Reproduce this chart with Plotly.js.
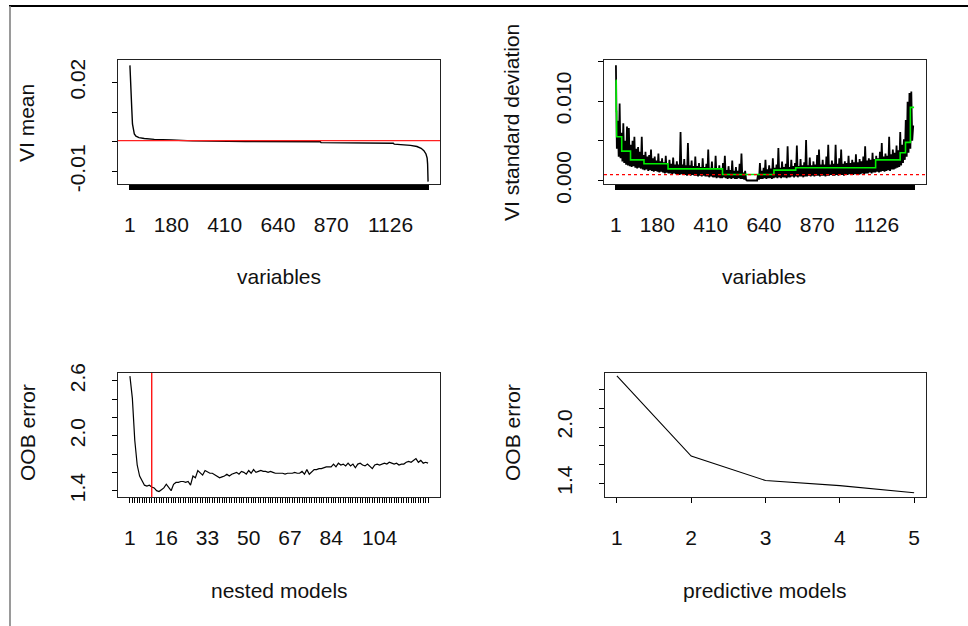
<!DOCTYPE html>
<html>
<head>
<meta charset="utf-8">
<script src="https://cdn.plot.ly/plotly-3.0.1.min.js"></script>
<style>
html,body{margin:0;padding:0;background:#fff;}
#chart{width:968px;height:626px;}
</style>
</head>
<body>
<div id="chart"></div>
<script>
// ---------------- DATA ----------------
var nVars = 1288;
var nNested = 124;

// Panel 1: VI mean (sorted), read at breakpoints of the curve
var viMeanIdx = [1, 3, 6, 9, 12, 15, 20, 27, 40, 63, 106, 180, 271, 500, 823, 826, 1000, 1138, 1142, 1180, 1212, 1240, 1258, 1270, 1279, 1284, 1286, 1288];
var viMeanVal = [0.0257, 0.0200, 0.0125, 0.0110, 0.0060, 0.0040, 0.0026, 0.0019, 0.0014, 0.0011, 0.0008, 0.0006, 0.0003, 0.0001, 0.0000, -0.0003, -0.0004, -0.0005, -0.0008, -0.0010, -0.0012, -0.0016, -0.0022, -0.0030, -0.0041, -0.0055, -0.0075, -0.0134];
var viMeanThreshold = 0.0004;

// Panel 2: VI standard deviation, read per bin of ~8 variables: upper values (with spikes) and lower values
var viSdHigh = [
 0.0145, 0.0075, 0.0097, 0.0060, 0.0072, 0.0050, 0.0068, 0.0066, 0.0045, 0.0050,
 0.0055, 0.0040, 0.0042, 0.0036, 0.0055, 0.0032, 0.0036, 0.0030, 0.0032, 0.0039,
 0.0028, 0.0030, 0.0025, 0.0034, 0.0024, 0.0028, 0.0023, 0.0031, 0.0022, 0.0026,
 0.0021, 0.0029, 0.0020, 0.0024, 0.0020, 0.0061, 0.0020, 0.0027, 0.0019, 0.0047,
 0.0019, 0.0025, 0.0018, 0.0030, 0.0018, 0.0022, 0.0017, 0.0028, 0.0017, 0.0021,
 0.0039, 0.0016, 0.0024, 0.0015, 0.0031, 0.0015, 0.0019, 0.0014, 0.0022, 0.0031,
 0.0013, 0.0018, 0.0013, 0.0025, 0.0012, 0.0017, 0.0012, 0.0021, 0.0034, 0.0010,
 0.0012, 0.0000, 0.0000, 0.0000, 0.0000, 0.0000, 0.0000, 0.0008, 0.0022, 0.0012,
 0.0016, 0.0026, 0.0014, 0.0019, 0.0015, 0.0028, 0.0016, 0.0020, 0.0041, 0.0016,
 0.0024, 0.0017, 0.0021, 0.0043, 0.0017, 0.0026, 0.0018, 0.0022, 0.0044, 0.0018,
 0.0027, 0.0019, 0.0023, 0.0051, 0.0019, 0.0029, 0.0019, 0.0024, 0.0020, 0.0032,
 0.0039, 0.0020, 0.0026, 0.0020, 0.0030, 0.0045, 0.0020, 0.0025, 0.0021, 0.0045,
 0.0021, 0.0028, 0.0039, 0.0021, 0.0024, 0.0022, 0.0031, 0.0022, 0.0026, 0.0023,
 0.0033, 0.0023, 0.0027, 0.0024, 0.0030, 0.0043, 0.0025, 0.0028, 0.0026, 0.0035,
 0.0027, 0.0031, 0.0028, 0.0036, 0.0047, 0.0030, 0.0034, 0.0031, 0.0055, 0.0033,
 0.0039, 0.0035, 0.0044, 0.0038, 0.0061, 0.0045, 0.0052, 0.0076, 0.0099, 0.0110,
 0.0112, 0.0068
];
var viSdLow = [
 0.0040, 0.0030, 0.0028, 0.0024, 0.0022, 0.0020, 0.0019, 0.0018, 0.0017, 0.0018,
 0.0016, 0.0015, 0.0016, 0.0015, 0.0014, 0.0013, 0.0014, 0.0012, 0.0013, 0.0012,
 0.0011, 0.0012, 0.0011, 0.0010, 0.0011, 0.0010, 0.0009, 0.0010, 0.0009, 0.0009,
 0.0008, 0.0009, 0.0008, 0.0008, 0.0007, 0.0008, 0.0007, 0.0007, 0.0006, 0.0007,
 0.0006, 0.0007, 0.0006, 0.0006, 0.0005, 0.0006, 0.0005, 0.0006, 0.0005, 0.0005,
 0.0004, 0.0005, 0.0004, 0.0004, 0.0003, 0.0004, 0.0003, 0.0003, 0.0004, 0.0003,
 0.0002, 0.0003, 0.0002, 0.0003, 0.0002, 0.0002, 0.0003, 0.0002, 0.0002, 0.0001,
 0.0001, 0.0000, 0.0000, 0.0000, 0.0000, 0.0000, 0.0000, 0.0001, 0.0002, 0.0002,
 0.0003, 0.0002, 0.0003, 0.0003, 0.0002, 0.0003, 0.0004, 0.0003, 0.0004, 0.0003,
 0.0004, 0.0004, 0.0003, 0.0004, 0.0004, 0.0005, 0.0004, 0.0005, 0.0004, 0.0005,
 0.0005, 0.0004, 0.0005, 0.0005, 0.0006, 0.0005, 0.0006, 0.0005, 0.0006, 0.0006,
 0.0005, 0.0006, 0.0006, 0.0005, 0.0006, 0.0006, 0.0007, 0.0006, 0.0006, 0.0007,
 0.0006, 0.0007, 0.0007, 0.0006, 0.0007, 0.0007, 0.0008, 0.0007, 0.0007, 0.0008,
 0.0008, 0.0007, 0.0008, 0.0009, 0.0008, 0.0009, 0.0009, 0.0010, 0.0009, 0.0010,
 0.0010, 0.0011, 0.0010, 0.0011, 0.0012, 0.0011, 0.0012, 0.0013, 0.0012, 0.0014,
 0.0014, 0.0015, 0.0016, 0.0017, 0.0019, 0.0022, 0.0026, 0.0030, 0.0035, 0.0040,
 0.0050, 0.0068
];
// pruned CART tree prediction (step function): start index of each step and its value
var treeStepIdx = [1, 2, 4, 26, 64, 122, 226, 461, 683, 777, 1122, 1228, 1251, 1272, 1288];
var treeStepVal = [0.0126, 0.0087, 0.0055, 0.0037, 0.0026, 0.0021, 0.00146, 0.00075, 0.0013, 0.0016, 0.0026, 0.0035, 0.0048, 0.0092, 0.0092];
var sdThreshold = 0.00075;

// Panel 3: OOB error of nested models
var nestedOOB = [
 2.65, 2.41, 1.95, 1.68, 1.56, 1.50, 1.46, 1.45, 1.46, 1.44,
 1.43, 1.40, 1.39, 1.41, 1.43, 1.47, 1.43, 1.40, 1.47, 1.49,
 1.49, 1.50, 1.50, 1.49, 1.50, 1.46, 1.56, 1.54, 1.62, 1.60,
 1.57, 1.62, 1.60, 1.59, 1.59, 1.57, 1.55, 1.54, 1.55, 1.56,
 1.58, 1.56, 1.58, 1.59, 1.60, 1.58, 1.61, 1.60, 1.58, 1.62,
 1.59, 1.63, 1.60, 1.61, 1.62, 1.61, 1.61, 1.60, 1.61, 1.60,
 1.59, 1.59, 1.59, 1.59, 1.58, 1.59, 1.59, 1.59, 1.60, 1.59,
 1.59, 1.61, 1.58, 1.63, 1.58, 1.60, 1.63, 1.63, 1.64, 1.64,
 1.65, 1.66, 1.66, 1.66, 1.69, 1.66, 1.70, 1.68, 1.69, 1.67,
 1.70, 1.67, 1.69, 1.65, 1.69, 1.70, 1.68, 1.67, 1.69, 1.66,
 1.64, 1.68, 1.69, 1.68, 1.69, 1.70, 1.69, 1.71, 1.70, 1.69,
 1.70, 1.68, 1.69, 1.69, 1.71, 1.72, 1.71, 1.73, 1.75, 1.71,
 1.73, 1.70, 1.71, 1.70
];
var nInterp = 10;

// Panel 4: OOB error of predictive models
var predModels = [1, 2, 3, 4, 5];
var predOOB = [2.545, 1.69, 1.43, 1.375, 1.30];

// tick labels
var varTickLabels = [1, 180, 410, 640, 870, 1126];
var nestedTickLabels = [1, 16, 33, 50, 67, 84, 104];
var viMeanTicks = [-0.01, 0, 0.01, 0.02];
var viMeanTickText = ['-0.01', '', '', '0.02'];
var viSdTicks = [0, 0.005, 0.01, 0.015];
var viSdTickText = ['0.000', '', '0.010', ''];
var nestedYTicks = [1.4, 1.6, 1.8, 2.0, 2.2, 2.4, 2.6];
var nestedYTickText = ['1.4', '', '', '2.0', '', '', '2.6'];
var predYTicks = [1.4, 1.6, 1.8, 2.0, 2.2, 2.4];
var predYTickText = ['1.4', '', '', '2.0', '', ''];

// ---------------- BUILD ----------------
var W = 968, H = 626;
function px(a){ return a / W; }
function py(a){ return 1 - a / H; }
function range1(n){ var a=[]; for (var i=1;i<=n;i++) a.push(i); return a; }
function denseText(n, labels){
  var t=[]; for (var i=1;i<=n;i++) t.push(labels.indexOf(i) >= 0 ? String(i) : ''); return t;
}
// interleave upper / lower readings along the variable axis
var viSdX = [], viSdY = [];
var nPts = viSdHigh.length * 2;
for (var k = 0; k < viSdHigh.length; k++) {
  viSdX.push(1 + (2*k) * (nVars - 1) / (nPts - 1)); viSdY.push(viSdHigh[k]);
  viSdX.push(1 + (2*k+1) * (nVars - 1) / (nPts - 1)); viSdY.push(viSdLow[k]);
}
var nestedIdx = range1(nNested);

var FONT = {family: '"Liberation Sans", Arial, sans-serif', size: 21, color: '#111'};
var BOX = '#222';

function xax(domain, rng, tv, tt, anchor){
  return {domain: domain, range: rng, anchor: anchor, showgrid:false, zeroline:false, showline:true, mirror:true,
    linecolor: BOX, linewidth: 1.3, ticks:'outside', ticklen:5, tickwidth:1, tickcolor:'#000',
    tickmode:'array', tickvals: tv, ticktext: tt, tickangle: 0, tickfont: FONT,
    ticklabelstandoff: 16, fixedrange:true};
}
function yax(domain, rng, tv, tt, anchor){
  return {domain: domain, range: rng, anchor: anchor, showgrid:false, zeroline:false, showline:true, mirror:true,
    linecolor: BOX, linewidth: 1.3, ticks:'outside', ticklen:5, tickwidth:1, tickcolor:'#000',
    tickmode:'array', tickvals: tv, ticktext: tt, tickangle: -90, tickfont: FONT,
    ticklabelstandoff: 18, fixedrange:true};
}

var padV = 0.04 * (nVars - 1);
var padN = 0.04 * (nNested - 1);
var padP = 0.04 * (predModels.length - 1);

var traces = [
  {x: viMeanIdx, y: viMeanVal, xaxis:'x', yaxis:'y', mode:'lines', line:{color:'#000', width:1.4}},
  {x: viSdX, y: viSdY, xaxis:'x2', yaxis:'y2', mode:'lines', line:{color:'#000', width:1.8}},
  {x: treeStepIdx, y: treeStepVal, xaxis:'x2', yaxis:'y2', mode:'lines', line:{color:'#00ee00', width:1.6, shape:'hv'}},
  {x: nestedIdx, y: nestedOOB, xaxis:'x3', yaxis:'y3', mode:'lines', line:{color:'#000', width:1.2}},
  {x: predModels, y: predOOB, xaxis:'x4', yaxis:'y4', mode:'lines', line:{color:'#000', width:1.1}}
];

var layout = {
  width: W, height: H, margin:{l:0,r:0,t:0,b:0}, showlegend:false,
  paper_bgcolor:'#fff', plot_bgcolor:'#fff', font: FONT, hovermode:false,
  xaxis:  xax([px(118), px(440)], [1 - padV, nVars + padV], range1(nVars), denseText(nVars, varTickLabels), 'y'),
  yaxis:  yax([py(184), py(60)], [-0.0142, 0.0275], viMeanTicks, viMeanTickText, 'x'),
  xaxis2: xax([px(604), px(926)], [1 - padV, nVars + padV], range1(nVars), denseText(nVars, varTickLabels), 'y2'),
  yaxis2: yax([py(184), py(60)], [-0.00044, 0.01516], viSdTicks, viSdTickText, 'x2'),
  xaxis3: xax([px(118), px(440)], [1 - padN, nNested + padN], nestedIdx, denseText(nNested, nestedTickLabels), 'y3'),
  yaxis3: yax([py(497), py(373)], [1.331, 2.684], nestedYTicks, nestedYTickText, 'x3'),
  xaxis4: xax([px(605), px(926)], [1 - padP, predModels.length + padP], predModels, predModels.map(String), 'y4'),
  yaxis4: yax([py(497), py(373)], [1.254, 2.576], predYTicks, predYTickText, 'x4'),
  shapes: [
    {type:'line', xref:'x domain', yref:'y', x0:0, x1:1, y0:viMeanThreshold, y1:viMeanThreshold, line:{color:'#ff2020', width:1.3}},
    {type:'line', xref:'x2 domain', yref:'y2', x0:0, x1:1, y0:sdThreshold, y1:sdThreshold, line:{color:'#ff0000', width:1.3, dash:'3px,3px'}},
    {type:'line', xref:'x3', yref:'y3 domain', x0:nInterp, x1:nInterp, y0:0, y1:1, line:{color:'#ff0000', width:1.3}},
    {type:'line', xref:'paper', yref:'paper', x0:px(9), x1:1, y0:py(6), y1:py(6), line:{color:'#000', width:2}},
    {type:'line', xref:'paper', yref:'paper', x0:px(10), x1:px(10), y0:py(6), y1:0, line:{color:'#808080', width:1.6}}
  ],
  annotations: [
    {text:'variables', xref:'paper', yref:'paper', x:px(279), y:py(277), showarrow:false, xanchor:'center', yanchor:'middle', font:FONT},
    {text:'variables', xref:'paper', yref:'paper', x:px(764), y:py(277), showarrow:false, xanchor:'center', yanchor:'middle', font:FONT},
    {text:'nested models', xref:'paper', yref:'paper', x:px(279), y:py(590), showarrow:false, xanchor:'center', yanchor:'middle', font:FONT},
    {text:'predictive models', xref:'paper', yref:'paper', x:px(764), y:py(590), showarrow:false, xanchor:'center', yanchor:'middle', font:FONT},
    {text:'VI mean', xref:'paper', yref:'paper', x:px(27), y:py(123), showarrow:false, textangle:-90, xanchor:'center', yanchor:'middle', font:FONT},
    {text:'VI standard deviation', xref:'paper', yref:'paper', x:px(512), y:py(123), showarrow:false, textangle:-90, xanchor:'center', yanchor:'middle', font:FONT},
    {text:'OOB error', xref:'paper', yref:'paper', x:px(27), y:py(433), showarrow:false, textangle:-90, xanchor:'center', yanchor:'middle', font:FONT},
    {text:'OOB error', xref:'paper', yref:'paper', x:px(512), y:py(433), showarrow:false, textangle:-90, xanchor:'center', yanchor:'middle', font:FONT}
  ]
};

Plotly.newPlot('chart', traces, layout, {staticPlot:true, displayModeBar:false});
</script>
</body>
</html>
